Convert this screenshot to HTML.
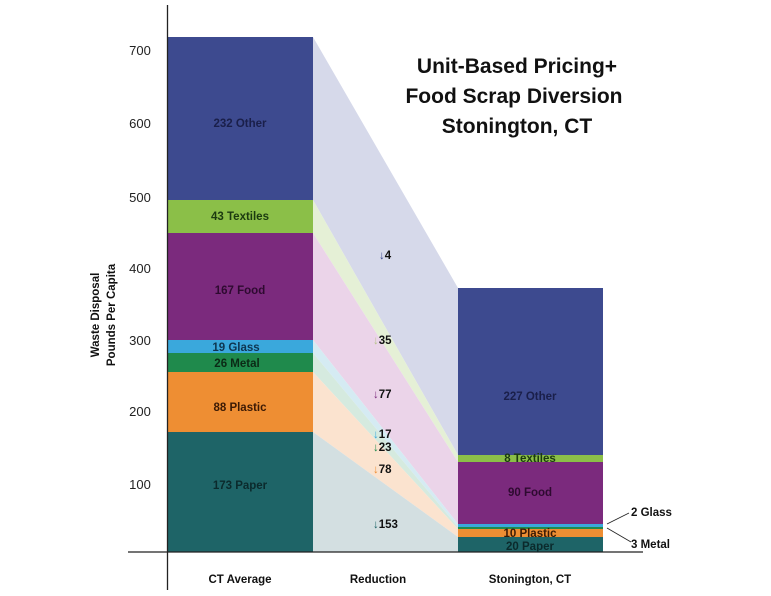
<!DOCTYPE html>
<html><head><meta charset="utf-8"><style>
body{margin:0;background:#fff}
svg{display:block}
text{font-family:"Liberation Sans",sans-serif;font-weight:bold}
</style></head><body>
<svg width="771" height="596" viewBox="0 0 771 596">
<!-- ribbons -->
<polygon points="313,37 458,288 458,455 313,200" fill="#d6d9ea"/>
<polygon points="313,200 458,455 458,462 313,233" fill="#e5f0d6"/>
<polygon points="313,233 458,462 458,524 313,340" fill="#ebd4e9"/>
<polygon points="313,340 458,524 458,527 313,353" fill="#d5ebf3"/>
<polygon points="313,353 458,527 458,529 313,372" fill="#d5eadf"/>
<polygon points="313,372 458,529 458,537 313,432" fill="#fbe3cf"/>
<polygon points="313,432 458,537 458,552 313,552" fill="#d3dfe1"/>
<!-- left bar -->
<rect x="168" y="37" width="145" height="163" fill="#3d4a8f"/>
<rect x="168" y="200" width="145" height="33" fill="#8bbf48"/>
<rect x="168" y="233" width="145" height="107" fill="#7b2a7d"/>
<rect x="168" y="340" width="145" height="13" fill="#3aa8dc"/>
<rect x="168" y="353" width="145" height="19" fill="#1f8a4c"/>
<rect x="168" y="372" width="145" height="60" fill="#ee8e33"/>
<rect x="168" y="432" width="145" height="120" fill="#1e6467"/>
<!-- right bar -->
<rect x="458" y="288" width="145" height="167" fill="#3d4a8f"/>
<rect x="458" y="455" width="145" height="7" fill="#8bbf48"/>
<rect x="458" y="462" width="145" height="62" fill="#7b2a7d"/>
<rect x="458" y="524" width="145" height="3" fill="#3aa8dc"/>
<rect x="458" y="527" width="145" height="2" fill="#1f8a4c"/>
<rect x="458" y="529" width="145" height="8" fill="#ee8e33"/>
<rect x="458" y="537" width="145" height="15" fill="#1e6467"/>
<!-- axes -->
<line x1="167.5" y1="5" x2="167.5" y2="590" stroke="#222" stroke-width="1.3"/>
<line x1="128" y1="552" x2="643" y2="552" stroke="#222" stroke-width="1.3"/>
<!-- ticks -->
<g font-size="13" fill="#222" text-anchor="middle" style="font-weight:normal">
<text x="140" y="55" style="font-weight:normal">700</text>
<text x="140" y="128" style="font-weight:normal">600</text>
<text x="140" y="202" style="font-weight:normal">500</text>
<text x="140" y="273" style="font-weight:normal">400</text>
<text x="140" y="345" style="font-weight:normal">300</text>
<text x="140" y="416" style="font-weight:normal">200</text>
<text x="140" y="489" style="font-weight:normal">100</text>
</g>
<g transform="translate(99,315) rotate(-90)" font-size="11.5" fill="#111" text-anchor="middle">
<text x="0" y="0">Waste Disposal</text>
<text x="0" y="16">Pounds Per Capita</text>
</g>
<!-- title -->
<g font-size="21" fill="#111" text-anchor="middle">
<text x="517" y="73">Unit-Based Pricing+</text>
<text x="514" y="103">Food Scrap Diversion</text>
<text x="517" y="133">Stonington, CT</text>
</g>
<!-- bar labels -->
<g font-size="11.5" text-anchor="middle">
<text x="240" y="127" fill="#1a1f4a">232 Other</text>
<text x="240" y="220" fill="#1b3a10">43 Textiles</text>
<text x="240" y="294" fill="#2e0a30">167 Food</text>
<text x="236" y="351" fill="#0e3550">19 Glass</text>
<text x="237" y="367" fill="#0b2a16">26 Metal</text>
<text x="240" y="411" fill="#3b1a05">88 Plastic</text>
<text x="240" y="489" fill="#0b2a2c">173 Paper</text>
<text x="530" y="400" fill="#1a1f4a">227 Other</text>
<text x="530" y="462" fill="#1b3a10">8 Textiles</text>
<text x="530" y="496" fill="#2e0a30">90 Food</text>
<text x="530" y="537" fill="#3b1a05">10 Plastic</text>
<text x="530" y="550" fill="#0b2a2c">20 Paper</text>
</g>
<!-- side labels -->
<polyline points="607,524 629,513" fill="none" stroke="#222" stroke-width="0.8"/>
<polyline points="607,528 631,542" fill="none" stroke="#222" stroke-width="0.8"/>
<g font-size="11.5" fill="#111">
<text x="631" y="516">2 Glass</text>
<text x="631" y="548">3 Metal</text>
</g>
<!-- reductions -->
<g font-size="11.5" fill="#111">
<text x="379" y="259"><tspan fill="#3d4a8f" style="font-weight:normal">↓</tspan>4</text>
<text x="373" y="344"><tspan fill="#b8c48a" style="font-weight:normal">↓</tspan>35</text>
<text x="373" y="398"><tspan fill="#7b2a7d" style="font-weight:normal">↓</tspan>77</text>
<text x="373" y="438"><tspan fill="#3aa8dc" style="font-weight:normal">↓</tspan>17</text>
<text x="373" y="451"><tspan fill="#1f8a4c" style="font-weight:normal">↓</tspan>23</text>
<text x="373" y="473"><tspan fill="#ee8e33" style="font-weight:normal">↓</tspan>78</text>
<text x="373" y="528"><tspan fill="#1e6467" style="font-weight:normal">↓</tspan>153</text>
</g>
<!-- x labels -->
<g font-size="11.5" fill="#111" text-anchor="middle">
<text x="240" y="583">CT Average</text>
<text x="378" y="583">Reduction</text>
<text x="530" y="583">Stonington, CT</text>
</g>
</svg>
</body></html>
